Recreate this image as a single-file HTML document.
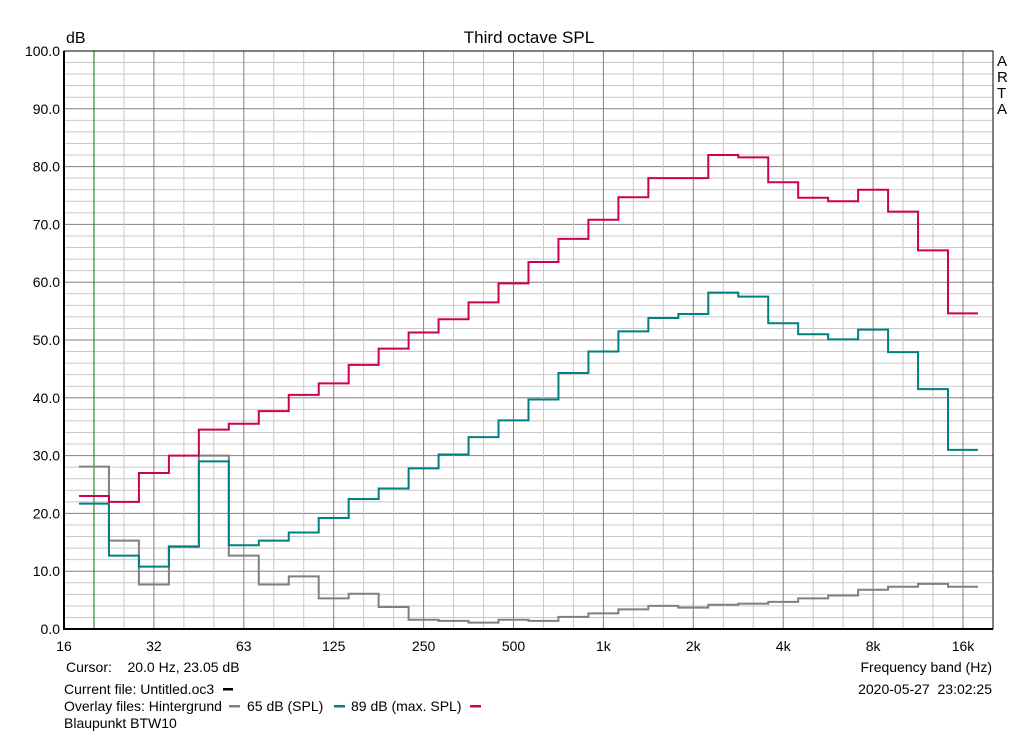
<!DOCTYPE html>
<html><head><meta charset="utf-8"><style>
body{margin:0;background:#fff;font-family:"Liberation Sans",sans-serif;}
svg text{font-family:"Liberation Sans",sans-serif;font-size:14px;fill:#000;white-space:pre;}
</style></head><body>
<svg id="c" width="1024" height="735">
<text x="529" y="43" text-anchor="middle" style="font-size:17px">Third octave SPL</text>
<text x="66" y="43" style="font-size:16px">dB</text>
<g><text x="997" y="66" style="font-size:15px">A</text><text x="997" y="82" style="font-size:15px">R</text><text x="997" y="98" style="font-size:15px">T</text><text x="997" y="114" style="font-size:15px">A</text></g>
<g id="grid"></g><g id="series"></g><g id="ticks"></g>
<text x="66" y="672">Cursor:    20.0 Hz, 23.05 dB</text>
<text x="992" y="672" text-anchor="end">Frequency band (Hz)</text>
<text x="64" y="694">Current file: Untitled.oc3</text>
<rect x="223" y="688" width="10" height="2.5" fill="#000"/>
<text x="992" y="694" text-anchor="end">2020-05-27  23:02:25</text>
<text x="64" y="711">Overlay files: Hintergrund</text>
<rect x="229" y="705" width="11" height="2.5" fill="#808080"/>
<text x="247" y="711">65 dB (SPL)</text>
<rect x="334" y="705" width="11" height="2.5" fill="#008080"/>
<text x="351" y="711">89 dB (max. SPL)</text>
<rect x="470" y="705" width="11" height="2.5" fill="#cc0055"/>
<text x="64" y="728">Blaupunkt BTW10</text>
</svg>
<script>
const bands=[20,25,31.5,40,50,63,80,100,125,160,200,250,315,400,500,630,800,1000,1250,1600,2000,2500,3150,4000,5000,6300,8000,10000,12500,16000];
const red=[23,22,27,30,34.5,35.5,37.7,40.5,42.5,45.7,48.5,51.3,53.6,56.5,59.8,63.5,67.5,70.8,74.7,78,78,82,81.6,77.3,74.6,74,76,72.2,65.5,54.6];
const teal=[21.7,12.7,10.8,14.3,29,14.5,15.3,16.7,19.2,22.5,24.3,27.8,30.2,33.2,36.1,39.7,44.3,48,51.5,53.8,54.5,58.2,57.5,52.9,51,50.1,51.8,47.9,41.5,31];
const gray=[28.1,15.3,7.7,14.2,30,12.7,7.7,9.1,5.3,6.1,3.8,1.6,1.4,1.1,1.6,1.4,2.1,2.7,3.4,4,3.7,4.2,4.4,4.7,5.3,5.8,6.8,7.3,7.8,7.3];
const xTicks=["16","32","63","125","250","500","1k","2k","4k","8k","16k"];
const yTicks=[0,10,20,30,40,50,60,70,80,90,100];
const L=64,R=993,T=51,B=629,OCT=89.9;
const ns="http://www.w3.org/2000/svg";
function x(f){return L+OCT*Math.round(3*Math.log2(f/16))/3;}
function y(v){return B-(B-T)*v/100;}
function mk(p,tag,a){const e=document.createElementNS(ns,tag);for(const k in a)e.setAttribute(k,a[k]);p.appendChild(e);return e;}
const g=document.getElementById('grid'),s=document.getElementById('series'),t=document.getElementById('ticks');
for(let v=0;v<=100;v+=2){const l=mk(g,'line',{x1:L,x2:R,y1:y(v),y2:y(v),stroke:v%10?'#c8c8c8':'#808080','stroke-width':1});

}
for(let i=0;i<=30;i++){const xx=L+i*OCT/3;if(xx>R)break;const l=mk(g,'line',{x1:xx,x2:xx,y1:T,y2:B,stroke:i%3?'#c8c8c8':'#808080','stroke-width':1});

}
const cur=mk(g,'line',{x1:x(20),x2:x(20),y1:T,y2:B,stroke:'#008000','stroke-width':1});


const fr=mk(g,'rect',{x:L,y:T,width:R-L,height:B-T,fill:'none',stroke:'#000','stroke-width':1});


const ax=mk(g,'path',{d:`M${L} ${T}V${B}H${R}`,fill:'none',stroke:'#000','stroke-width':2});


function step(vals,col,name){let d='';vals.forEach((v,i)=>{const c=x(bands[i]),h=OCT/6;d+=(i?'L':'M')+(c-h)+' '+y(v)+'L'+(c+h)+' '+y(v);});
const p=mk(s,'path',{d:d,fill:'none',stroke:col,'stroke-width':2});

}
step(gray,'#808080','series-background');
step(teal,'#008080','series-65db');
step(red,'#cc0055','series-89db');
xTicks.forEach((l,i)=>{const e=mk(t,'text',{x:L+i*OCT,y:651,'text-anchor':'middle'});e.textContent=l;

});
yTicks.forEach(v=>{const e=mk(t,'text',{x:L-4,y:y(v)+5,'text-anchor':'end'});e.textContent=v.toFixed(1);

});
</script>
</body></html>
